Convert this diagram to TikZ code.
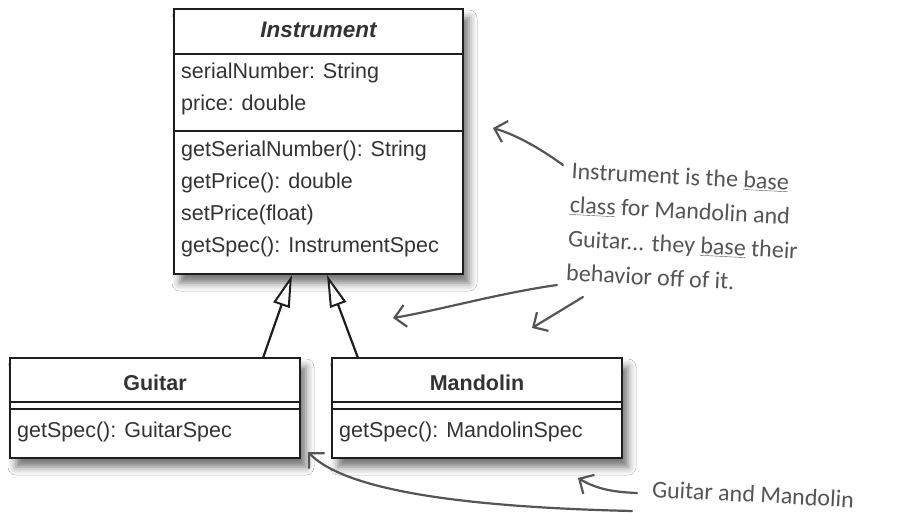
\documentclass[tikz,border=0pt]{standalone}
\usepackage{fontspec}
\setmainfont{Liberation Sans}
\newfontfamily\handfont{Carlito}
\usetikzlibrary{arrows.meta,shadows.blur}
\definecolor{boxline}{HTML}{1E1E1E}
\definecolor{boxtext}{HTML}{333333}
\definecolor{hand}{HTML}{555555}
\begin{document}
\begin{tikzpicture}[x=1pt,y=-1pt,
  umlbox/.style={draw=boxline, line width=2.3pt, fill=white, rectangle, inner sep=0pt,
    blur shadow={shadow xshift=6pt, shadow yshift=-9pt, shadow blur radius=8pt, shadow opacity=55}},
  divider/.style={draw=boxline, line width=2pt},
  member/.style={anchor=west, inner sep=0pt, text=boxtext, font=\fontsize{21.5}{26}\selectfont},
  classname/.style={inner sep=0pt, text=boxtext, font=\fontsize{21.5}{26}\selectfont\bfseries},
  inherit/.style={draw=boxline, line width=2.2pt, -{Triangle[length=32pt, width=17pt, fill=white, line width=2pt]}},
  note/.style={inner sep=0pt, text=hand, align=left, font=\handfont\fontsize{24}{34}\selectfont},
  notearrow/.style={draw=hand, line width=2.2pt, line cap=round, -{Straight Barb[length=11pt, width=22pt, line width=2.2pt]}}
]
\useasboundingbox (0,0) rectangle (897,513);
\clip (0,0) rectangle (897,513);
\fill[white] (0,0) rectangle (897,513);

% Instrument
\node[umlbox, minimum width=289pt, minimum height=265pt] (instr) at (318.5,141.5) {};
\draw[divider] (174,54) -- (463,54);
\draw[divider] (174,131) -- (463,131);
\node[classname, font=\fontsize{22.5}{26}\selectfont\bfseries\itshape] (instrname) at (318.5,30) {Instrument};
\node[member] (a1) at (181,73) {serialNumber: String};
\node[member] (a2) at (181,105) {price: double};
\node[member] (m1) at (181,151) {getSerialNumber(): String};
\node[member] (m2) at (181,183) {getPrice(): double};
\node[member] (m3) at (181,215) {setPrice(float)};
\node[member] (m4) at (181,247) {getSpec(): InstrumentSpec};

% Guitar
\node[umlbox, minimum width=290pt, minimum height=100pt] (guitar) at (155,408) {};
\draw[divider] (10,402) -- (300,402);
\draw[divider] (10,409) -- (300,409);
\node[classname] (gname) at (155,383) {Guitar};
\node[member] (gm) at (17,432) {getSpec(): GuitarSpec};

% Mandolin
\node[umlbox, minimum width=290pt, minimum height=100pt] (mando) at (477,408) {};
\draw[divider] (332,402) -- (622,402);
\draw[divider] (332,409) -- (622,409);
\node[classname] (mname) at (477,383) {Mandolin};
\node[member] (mm) at (339,432) {getSpec(): MandolinSpec};

% inheritance
\coordinate (gtop) at (263,358);
\coordinate (ibot1) at (292,275);
\coordinate (mtop) at (358,358);
\coordinate (ibot2) at (327,275);
\draw[inherit] (gtop) -- (ibot1);
\draw[inherit] (mtop) -- (ibot2);

% note 1
\node[note, anchor=north west, rotate=-3] (note1) at (572,162) {Instrument is the \underline{base}\\
\underline{class} for Mandolin and\\
Guitar... they \underline{base} their\\
behavior off of it.};
\coordinate (n1a) at (563,165);
\coordinate (n1b) at (557,285);
\coordinate (n1c) at (583,297);
\coordinate (t1a) at (493,128);
\coordinate (t1b) at (393,318);
\coordinate (t1c) at (532,328);
\draw[notearrow] (n1a) .. controls (545,152) and (520,136) .. (t1a);
\draw[notearrow] (n1b) .. controls (500,293) and (440,310) .. (t1b);
\draw[notearrow] (n1c) -- (t1c);

% note 2
\node[note, anchor=west, rotate=-3] (note2) at (652,489) {Guitar and Mandolin};
\coordinate (n2a) at (637,493);
\coordinate (n2b) at (632,511);
\coordinate (t2a) at (578,478);
\coordinate (t2b) at (308,452);
\draw[notearrow] (n2a) .. controls (610,492) and (595,488) .. (t2a);
\draw[notearrow] (n2b) .. controls (460,507) and (345,490) .. (t2b);
\end{tikzpicture}
\end{document}
